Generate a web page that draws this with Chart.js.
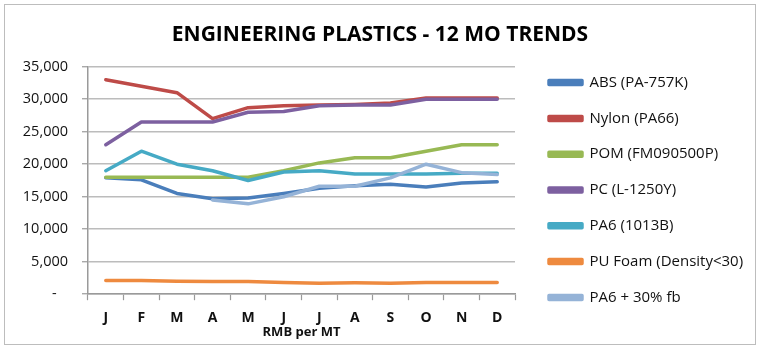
<!DOCTYPE html>
<html>
<head>
<meta charset="utf-8">
<script src="https://cdn.jsdelivr.net/npm/chart.js@4.4.1/dist/chart.umd.min.js"></script>
<style>
  html, body { margin: 0; padding: 0; background: #ffffff; }
  body { width: 768px; height: 356px; position: relative; overflow: hidden; }
  #wrap { position: absolute; left: 4px; top: 4px; width: 750px; height: 339px; border: 1px solid #bdbdbd; background: #fff; }
  canvas { display: block; }
</style>
</head>
<body>
<div id="wrap"><canvas id="c" width="750" height="339"></canvas></div>
<script>
// ---- data ----
const months = ['J', 'F', 'M', 'A', 'M', 'J', 'J', 'A', 'S', 'O', 'N', 'D'];
const seriesNames = ['ABS (PA-757K)', 'Nylon (PA66)', 'POM (FM090500P)', 'PC (L-1250Y)', 'PA6 (1013B)', 'PU Foam (Density<30)', 'PA6 + 30% fb'];
const absValues   = [17900, 17600, 15500, 14700, 14800, 15500, 16300, 16700, 16900, 16500, 17100, 17300];
const nylonValues = [33000, 32000, 31000, 27000, 28700, 29000, 29100, 29200, 29400, 30200, 30200, 30200];
const pomValues   = [18000, 18000, 18000, 18000, 18000, 19000, 20200, 21000, 21000, 22000, 23000, 23000];
const pcValues    = [23000, 26500, 26500, 26500, 28000, 28100, 29000, 29100, 29100, 30000, 30000, 30000];
const pa6Values   = [19000, 22000, 20000, 19000, 17500, 18800, 19000, 18500, 18500, 18500, 18600, 18600];
const puValues    = [2100, 2100, 2000, 1950, 1950, 1800, 1700, 1750, 1700, 1800, 1800, 1800];
const pa6fbValues = [null, null, null, 14500, 13900, 15000, 16600, 16600, 17900, 20000, 18700, 18400];
const yTicks = [0, 5000, 10000, 15000, 20000, 25000, 30000, 35000];
const titleText = 'ENGINEERING PLASTICS - 12 MO TRENDS';
const xTitleText = 'RMB per MT';

const colors = ['#4A7EBB', '#BE4B48', '#98B954', '#7D60A0', '#46AAC5', '#EE8A3F', '#95B3D7'];
const allValues = [absValues, nylonValues, pomValues, pcValues, pa6Values, puValues, pa6fbValues];

const datasets = allValues.map((vals, i) => ({
  label: seriesNames[i],
  data: vals,
  borderColor: colors[i],
  backgroundColor: colors[i],
  borderWidth: 3.5,
  pointRadius: 0,
  pointHoverRadius: 0,
  tension: 0,
  fill: false,
  borderJoinStyle: 'round',
  borderCapStyle: 'round',
  order: allValues.length - i
}));

const FONT = '"Open Sans", "Liberation Sans", sans-serif';

const layoutFix = {
  id: 'layoutFix',
  beforeLayout(chart) {
    const lg = chart.legend;
    if (lg && !lg._patched) {
      const orig = lg.fit.bind(lg);
      lg.fit = function () { orig(); this.width = 240; };
      lg._patched = true;
    }
  },
  afterLayout(chart) {
    const lg = chart.legend;
    if (lg) {
      lg.left = 523.2;
      lg.right = lg.left + 226;
      lg.top = 49.3;
      lg.bottom = chart.height;
    }
  }
};

new Chart(document.getElementById('c'), {
  type: 'line',
  data: { labels: months, datasets: datasets },
  plugins: [layoutFix],
  options: {
    responsive: false,
    animation: false,
    events: [],
    layout: { padding: 0 },
    plugins: {
      title: {
        display: true,
        text: titleText,
        color: '#000',
        font: { family: FONT, size: 21, weight: 'bold' },
        padding: { top: 17.4, bottom: 19.1 }
      },
      legend: {
        display: true,
        position: 'right',
        align: 'start',
        labels: {
          color: '#111',
          font: { family: FONT, size: 15 },
          boxWidth: 33,
          boxHeight: 4,
          padding: 20.8,
          sort: (a, b) => a.datasetIndex - b.datasetIndex
        }
      },
      tooltip: { enabled: false }
    },
    scales: {
      x: {
        type: 'category',
        offset: true,
        afterFit(scale) { scale.height = 49.8; },
        grid: {
          display: true,
          offset: true,
          drawOnChartArea: false,
          drawTicks: true,
          tickLength: 6,
          tickColor: '#9a9a9a',
          tickWidth: 1.2
        },
        border: { display: true, color: '#9a9a9a', width: 1.5 },
        ticks: {
          color: '#111',
          font: { family: FONT, size: 14, weight: 'bold' },
          padding: 9.4,
          maxRotation: 0,
          autoSkip: false
        },
        title: {
          display: true,
          text: xTitleText,
          color: '#111',
          font: { family: FONT, size: 13, weight: 'bold' },
          padding: { top: 0, bottom: 4.2 }
        }
      },
      y: {
        min: 0,
        max: 35000,
        afterFit(scale) { scale.width = 83; },
        afterBuildTicks(scale) { scale.ticks = yTicks.map(v => ({ value: v })); },
        grid: {
          display: true,
          color: '#bcbcbc',
          lineWidth: 1.5,
          drawTicks: true,
          tickLength: 6,
          tickColor: '#9a9a9a',
          tickWidth: 1.2
        },
        border: { display: true, color: '#9a9a9a', width: 1.5 },
        ticks: {
          color: '#111',
          font: { family: FONT, size: 14.5 },
          padding: 14,
          callback: (v) => v === 0 ? '-   ' : Number(v).toLocaleString('en-US')
        }
      }
    }
  }
});
</script>
</body>
</html>
